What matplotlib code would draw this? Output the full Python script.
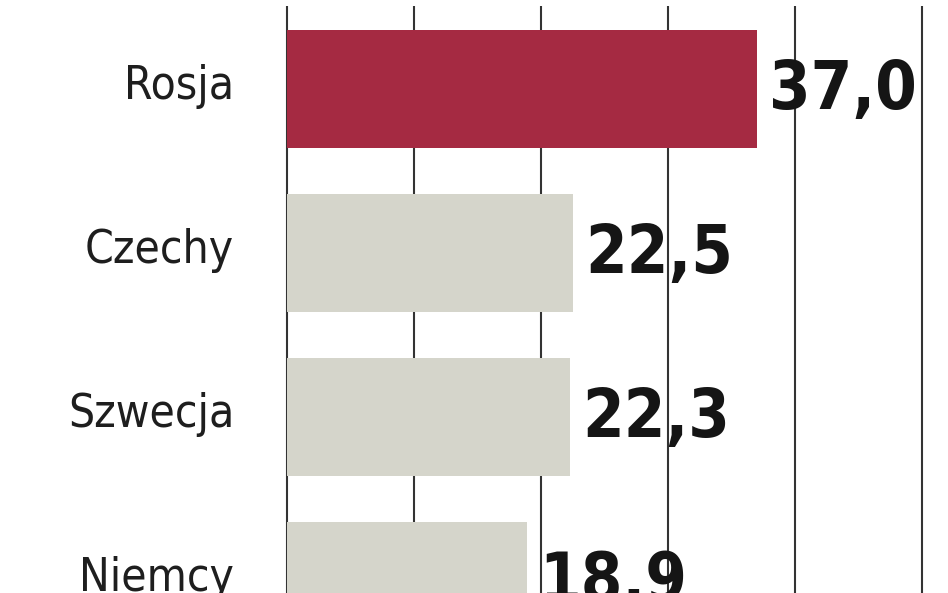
import matplotlib.pyplot as plt

# dane
countries = ['Rosja', 'Czechy', 'Szwecja', 'Niemcy']
values = [37.0, 22.5, 22.3, 18.9]
bar_colors = ['#A52A42', '#D5D5CB', '#D5D5CB', '#D5D5CB']
grid_ticks = [0, 10, 20, 30, 40, 50]

fig = plt.figure(figsize=(9.48, 5.93), dpi=100)
# osie na calej szerokosci, gorna krawedz 6 px nizej
ax = fig.add_axes([0, 0, 1, 587 / 593])

px = 12.7  # px na jednostke
ax.set_xlim(-287 / px, (948 - 287) / px)
ax.set_ylim(-0.543 + 593 / 164, -0.543 + 6 / 164)

ax.set_xticks(grid_ticks)
ax.grid(axis='x', color='#333333', linewidth=1.5)
ax.set_axisbelow(True)

y = list(range(len(countries)))
ax.barh(y, values, height=0.72, color=bar_colors, zorder=2)

for i, (name, v) in enumerate(zip(countries, values)):
    ax.annotate(name, xy=(0, i), xytext=(-38, 2), textcoords='offset points',
                ha='right', va='center', fontsize=33, color='#1e1e1e',
                family='DejaVu Sans', fontstretch='condensed',
                annotation_clip=False)
    ax.annotate(f'{v:.1f}'.replace('.', ','), xy=(v, i), xytext=(9, -1),
                textcoords='offset points', ha='left', va='center',
                fontsize=48, fontweight='bold', color='#151515',
                family='DejaVu Sans', fontstretch='condensed',
                zorder=5, annotation_clip=False)

ax.tick_params(length=0, labelbottom=False, labelleft=False)
for s in ax.spines.values():
    s.set_visible(False)

plt.savefig('out.png', dpi=100)
